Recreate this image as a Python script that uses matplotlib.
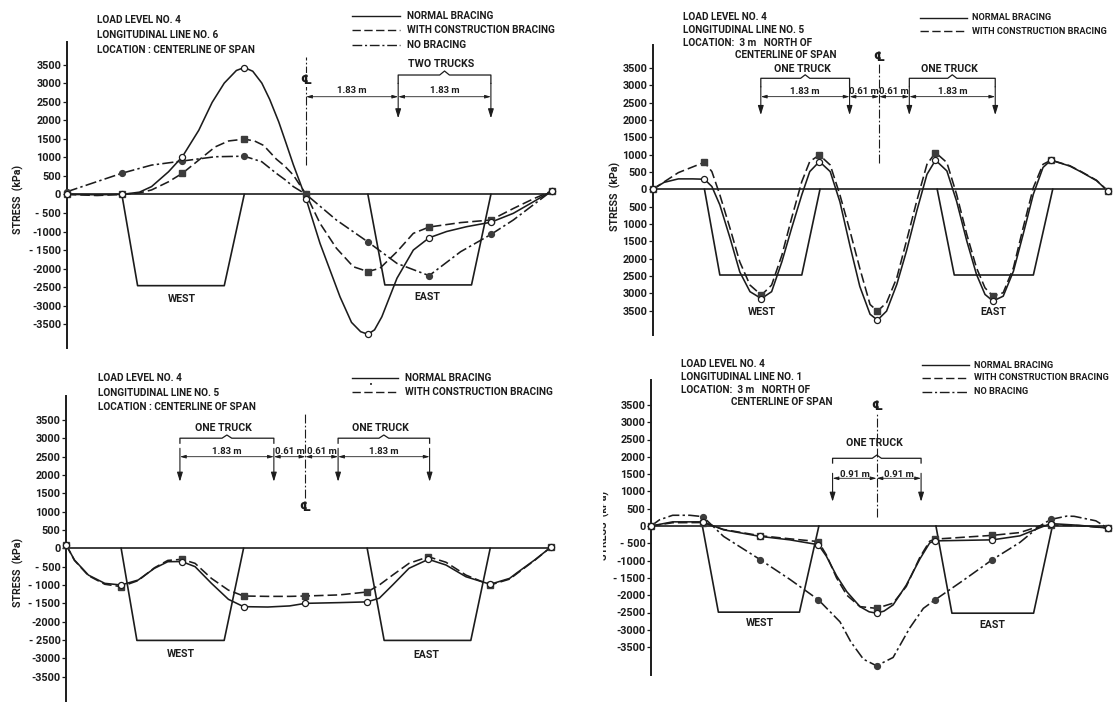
import matplotlib
matplotlib.use("Agg")
import matplotlib.pyplot as plt
from matplotlib.lines import Line2D
from matplotlib.transforms import Bbox, TransformedBbox

W, H = 1116, 702
INK = "#1c1c1c"
FILL = "#3c3c3c"
FONT = ["Roboto", "DejaVu Sans"]

# girder positions (spacing units) where gauges were read
GIRDER_X = [0, 0.91, 1.91, 2.93, 3.95, 4.97, 5.98, 7.0, 8.0]
TICKS = [3500, 3000, 2500, 2000, 1500, 1000, 500, 0,
         -500, -1000, -1500, -2000, -2500, -3000, -3500]
P1_TICKLABELS = ["3500", "3000", "2500", "2000", "1500", "1000", "500", "0",
                 "- 500", "-1000", "- 1500", "-2000", "-2500", "-3000", "-3500"]
P2_TICKLABELS = ["3500", "3000", "2500", "2000", "1500", "1000", "500", "0",
                 "500", "1000", "1500", "2000", "2500", "3000", "3500"]
P3_TICKLABELS = ["3500", "3000", "2500", "2000", "1500", "1000", "500", "0",
                 "- 500", "- 1000", "- 1500", "-2000", "- 2500", "-3000", "-3500"]
P4_TICKLABELS = ["3500", "3000", "2500", "2000", "1500", "1000", "500", "0",
                 "- 500", "-1000", "- 1500", "-2000", "-2500", "-3000", "-3500"]

# ---- panel 1 : line 6, centerline of span (kPa) ----
p1_normal = [0, 0, 1020, 3420, -120, -3770, -1170, -750, 90]
p1_constr = [0, 0, 570, 1490, 0, -2080, -880, -690, 90]
p1_nobrace = [70, 570, 900, 1030, 0, -1280, -2190, -1080, 90]
p1_normal_curve = [(0, 0), (0.5, -10), (0.91, 0), (1.2, 60), (1.4, 210), (1.68, 610),
                   (1.91, 1020), (2.18, 1730), (2.4, 2480), (2.6, 3000), (2.8, 3340),
                   (2.93, 3420), (3.07, 3320), (3.22, 3000), (3.35, 2560), (3.5, 1950),
                   (3.62, 1380), (3.74, 800), (3.95, -120), (4.18, -1320), (4.51, -2760),
                   (4.7, -3450), (4.85, -3700), (4.97, -3770), (5.08, -3650), (5.2, -3300),
                   (5.45, -2260), (5.72, -1500), (5.98, -1170), (6.27, -1000), (6.6, -870),
                   (7.0, -750), (7.37, -510), (7.7, -200), (8.0, 90)]
p1_constr_curve = [(0, 0), (0.5, -30), (0.91, 0), (1.2, 40), (1.4, 120), (1.68, 340),
                   (1.91, 570), (2.18, 925), (2.45, 1280), (2.67, 1440), (2.93, 1490),
                   (3.1, 1440), (3.25, 1320), (3.46, 950), (3.6, 760), (3.74, 520), (3.95, 0),
                   (4.18, -780), (4.45, -1450), (4.73, -1950), (4.97, -2080), (5.17, -1990),
                   (5.45, -1545), (5.72, -1050), (5.98, -880), (6.5, -760), (7.0, -690),
                   (7.37, -380), (7.7, -120), (8.0, 90)]
p1_nobrace_curve = [(0, 70), (0.91, 570), (1.4, 790), (1.91, 900), (2.45, 1015), (2.93, 1030),
                    (3.22, 880), (3.46, 566), (3.6, 400), (3.74, 210), (3.95, 0), (4.45, -690),
                    (4.97, -1280), (5.45, -1860), (5.98, -2190), (6.5, -1545), (7.0, -1080),
                    (7.37, -690), (8.0, 90)]
p1_boxes = [(0.91, 1.17, 2.60, 2.93, -2460), (4.97, 5.25, 6.68, 7.0, -2440)]

# ---- panel 2 : line 5, 3 m north of centerline ----
p2_normal = [0, 290, -3150, 800, -3770, 840, -3220, 840, -50]
p2_constr = [0, 780, -3050, 990, -3510, 1060, -3080, 840, -50]
p2_normal_curve = [(0, 0), (0.2, 200), (0.45, 300), (0.7, 300), (0.91, 290), (1.04, 80),
                   (1.18, -450), (1.36, -1410), (1.53, -2380), (1.71, -2950), (1.91, -3150),
                   (2.09, -2950), (2.27, -2090), (2.44, -1130), (2.62, -160), (2.76, 510),
                   (2.93, 800), (3.12, 510), (3.29, -360), (3.47, -1650), (3.64, -2800),
                   (3.82, -3600), (3.95, -3770), (4.11, -3510), (4.29, -2740), (4.46, -1780),
                   (4.64, -630), (4.82, 430), (4.97, 840), (5.17, 530), (5.34, -340),
                   (5.52, -1490), (5.69, -2450), (5.84, -3030), (5.98, -3220), (6.16, -3080),
                   (6.34, -2360), (6.51, -1300), (6.69, -140), (6.86, 630), (7.0, 840),
                   (7.33, 670), (7.53, 500), (7.8, 250), (8.0, -50)]
p2_constr_curve = [(0, 0), (0.45, 480), (0.91, 780), (1.04, 510), (1.18, -160), (1.36, -1130),
                   (1.53, -2090), (1.71, -2760), (1.91, -3050), (2.09, -2760), (2.27, -1900),
                   (2.44, -840), (2.62, 220), (2.76, 800), (2.93, 990), (3.12, 700),
                   (3.29, -160), (3.47, -1220), (3.64, -2280), (3.82, -3320), (3.95, -3510),
                   (4.11, -3270), (4.29, -2550), (4.46, -1490), (4.64, -340), (4.82, 720),
                   (4.97, 1060), (5.17, 770), (5.34, -140), (5.52, -1300), (5.69, -2260),
                   (5.84, -2840), (5.98, -3080), (6.16, -2980), (6.34, -2260), (6.51, -1110),
                   (6.69, 50), (6.86, 720), (7.0, 840), (7.33, 680), (7.53, 510), (7.8, 260),
                   (8.0, -50)]
p2_boxes = [(0.91, 1.18, 2.62, 2.94, -2470), (5.0, 5.30, 6.69, 7.03, -2470)]

# ---- panel 3 : line 5, centerline of span ----
p3_normal = [100, -1000, -360, -1590, -1500, -1460, -300, -980, 30]
p3_constr = [100, -1045, -300, -1300, -1300, -1190, -230, -1000, 30]
p3_normal_curve = [(0, 100), (0.14, -320), (0.37, -730), (0.64, -955), (0.91, -1000),
                   (1.19, -865), (1.46, -545), (1.68, -365), (1.91, -360), (2.13, -500),
                   (2.4, -955), (2.68, -1390), (2.93, -1590), (3.33, -1600), (3.69, -1570),
                   (3.95, -1500), (4.51, -1480), (4.97, -1460), (5.17, -1360), (5.39, -1000),
                   (5.66, -545), (5.98, -300), (6.27, -455), (6.6, -775), (7.0, -980),
                   (7.32, -820), (7.44, -670), (7.74, -310), (8.0, 30)]
p3_constr_curve = [(0, 100), (0.14, -330), (0.37, -745), (0.64, -980), (0.91, -1045),
                   (1.19, -880), (1.46, -530), (1.68, -330), (1.91, -300), (2.13, -410),
                   (2.4, -820), (2.68, -1140), (2.93, -1300), (3.33, -1310), (3.69, -1310),
                   (3.95, -1300), (4.51, -1270), (4.97, -1190), (5.17, -1000), (5.39, -730),
                   (5.66, -410), (5.98, -230), (6.27, -380), (6.6, -730), (7.0, -1000),
                   (7.32, -840), (7.44, -690), (7.74, -320), (8.0, 30)]
p3_boxes = [(0.91, 1.17, 2.61, 2.93, -2510), (4.97, 5.25, 6.68, 7.0, -2510)]

# ---- panel 4 : line 1, 3 m north of centerline ----
p4_normal = [0, 120, -300, -540, -2520, -430, -400, 70, -60]
p4_constr = [0, 100, -280, -450, -2380, -380, -270, 30, -60]
p4_nobrace = [0, 270, -970, -2130, -4040, -2140, -970, 190, -60]
p4_normal_curve = [(0, 0), (0.38, 120), (0.91, 120), (1.27, -110), (1.91, -300), (2.43, -400),
                   (2.93, -540), (3.07, -870), (3.25, -1440), (3.43, -1900), (3.66, -2330),
                   (3.82, -2480), (3.95, -2520), (4.08, -2460), (4.24, -2280), (4.47, -1710),
                   (4.71, -950), (4.88, -490), (4.97, -430), (5.98, -400), (6.46, -285),
                   (6.81, -50), (7.0, 70), (7.5, 20), (8.0, -60)]
p4_constr_curve = [(0, 0), (0.38, 95), (0.91, 100), (1.27, -100), (1.91, -280), (2.43, -370),
                   (2.93, -450), (3.07, -830), (3.25, -1500), (3.43, -2000), (3.66, -2330),
                   (3.95, -2380), (4.24, -2230), (4.47, -1750), (4.71, -900), (4.88, -440),
                   (4.97, -380), (5.98, -270), (6.46, -190), (6.81, 0), (7.0, 30),
                   (7.5, 10), (8.0, -60)]
p4_nobrace_curve = [(0, 0), (0.15, 180), (0.38, 310), (0.68, 310), (0.91, 270), (1.27, -300),
                    (1.91, -970), (2.43, -1540), (2.93, -2130), (3.31, -2770), (3.5, -3350),
                    (3.72, -3850), (3.95, -4040), (4.24, -3800), (4.53, -2950), (4.77, -2380),
                    (4.97, -2140), (5.47, -1570), (5.98, -970), (6.46, -475), (6.81, 0),
                    (7.0, 190), (7.28, 285), (7.41, 280), (7.79, 150), (8.0, -60)]
p4_boxes = [(0.90, 1.18, 2.60, 2.94, -2490), (4.99, 5.27, 6.70, 7.03, -2520)]

fig = plt.figure(figsize=(W / 100, H / 100), dpi=100)
fig.patch.set_facecolor("white")

SOLID = "-"
DASHED = (0, (6, 2.5))
DASHDOT = (0, (7, 2, 1.5, 2))
LW = 1.15


def px(x, y):
    return x / W, 1 - y / H


def ftext(x, y, s, size=7.2, **kw):
    return fig.text(*px(x, y), s, fontsize=size, family=FONT, fontweight="bold",
                    color=INK, va="center", **kw)


def fline(x0, x1, y, ls):
    a, b = px(x0, y), px(x1, y)
    fig.add_artist(Line2D([a[0], b[0]], [a[1], b[1]], color=INK, lw=1.0, ls=ls))


def make_panel(rect, px0, ux, py0, k, axis_lo, axis_hi, labels):
    L, T, R, B = rect
    ax = fig.add_axes([L / W, 1 - B / H, (R - L) / W, (B - T) / H])
    ax.set_xlim((L - px0) / ux, (R - px0) / ux)
    ax.set_ylim((py0 - B) / k * 1000, (py0 - T) / k * 1000)
    ax.patch.set_alpha(0)
    for s in ["top", "right", "bottom"]:
        ax.spines[s].set_visible(False)
    ax.spines["left"].set_position(("data", 0))
    ax.spines["left"].set_bounds(axis_lo, axis_hi)
    ax.spines["left"].set_linewidth(1.4)
    ax.spines["left"].set_color(INK)
    ax.set_xticks([])
    ax.set_yticks(TICKS, labels)
    ax.tick_params(axis="y", direction="out", length=3, width=0.9, pad=1,
                   labelsize=7.8, colors=INK)
    for t in ax.get_yticklabels():
        t.set_fontweight("bold")
        t.set_family(FONT)
    ax.plot([0, 8], [0, 0], color=INK, lw=1.2)
    return ax


def curve(ax, pts, ls):
    ax.plot([p[0] for p in pts], [p[1] for p in pts], color=INK, lw=LW, ls=ls)


def marks(ax, vals, kind):
    if kind == "open":
        ax.plot(GIRDER_X, vals, ls="none", marker="o", ms=4.4, mfc="white",
                mec=INK, mew=0.9, zorder=5)
    elif kind == "square":
        ax.plot(GIRDER_X, vals, ls="none", marker="s", ms=4.0, mfc=FILL,
                mec=FILL, zorder=4)
    else:
        ax.plot(GIRDER_X, vals, ls="none", marker="o", ms=4.2, mfc=FILL,
                mec=FILL, zorder=4)


def boxes(ax, bxs):
    for a, b, c, d, depth in bxs:
        ax.plot([a, b, c, d], [0, depth, depth, 0], color=INK, lw=1.2)


def centerline(ax, x, y0, y1, sym_y):
    ax.plot([x, x], [y0, y1], color=INK, lw=0.8, ls=(0, (8, 2, 1.5, 2)))
    ax.text(x, sym_y, "\u2104", ha="center", va="center", fontsize=9,
            family=["DejaVu Sans"], fontweight="bold", color=INK,
            bbox=dict(fc="white", ec="none", pad=0.2))


def wheel(ax, x, y0, y1):
    ax.annotate("", xy=(x, y1), xytext=(x, y0),
                arrowprops=dict(arrowstyle="-|>,head_length=0.55,head_width=0.17",
                                color=INK, lw=0.8, shrinkA=0, shrinkB=0))


def dims(ax, xs, y, texts, ty):
    for a, b, s in zip(xs[:-1], xs[1:], texts):
        ax.annotate("", xy=(b, y), xytext=(a, y),
                    arrowprops=dict(arrowstyle="<|-|>,head_length=0.35,head_width=0.1",
                                    color=INK, lw=0.6, shrinkA=0, shrinkB=0))
        ax.text((a + b) / 2, ty, s, ha="center", va="center", fontsize=6.8,
                family=FONT, fontweight="bold", color=INK)


def brace(ax, a, b, y_end, y_bar, y_peak, label, label_y):
    m = (a + b) / 2
    ax.plot([a, a, m - 0.08, m, m + 0.08, b, b],
            [y_end, y_bar, y_bar, y_peak, y_bar, y_bar, y_end], color=INK, lw=0.9)
    ax.text(m - 0.05, label_y, label, ha="center", va="center", fontsize=7.6,
            family=FONT, fontweight="bold", color=INK)


def site_labels(ax, west, east):
    for (x, y), s in zip([west, east], ["WEST", "EAST"]):
        ax.text(x, y, s, ha="center", va="center", fontsize=7.6, family=FONT,
                fontweight="bold", color=INK)


# ================= panel 1 =================
ax1 = make_panel((0, 0, 558, 358), 66.7, 60.6, 194.4, 37.1, -4150, 4100, P1_TICKLABELS)
boxes(ax1, p1_boxes)
curve(ax1, p1_normal_curve, SOLID)
curve(ax1, p1_constr_curve, DASHED)
curve(ax1, p1_nobrace_curve, DASHDOT)
marks(ax1, p1_nobrace, "dot")
marks(ax1, p1_constr, "square")
marks(ax1, p1_normal, "open")
centerline(ax1, 3.95, 790, 3700, 3080)
dims(ax1, [3.95, 5.47, 7.0], 2633, ["1.83 m", "1.83 m"], 2814)
wheel(ax1, 5.47, 2995, 2051)
wheel(ax1, 7.0, 2995, 2051)
brace(ax1, 5.47, 7.0, 2995, 3218, 3326, "TWO TRUCKS", 3507)
site_labels(ax1, (1.90, -2830), (5.95, -2765))

# ================= panel 2 =================
ax2 = make_panel((560, 0, 1116, 358), 652.7, 56.9, 189.3, 34.7, -4200, 4150, P2_TICKLABELS)
boxes(ax2, p2_boxes)
curve(ax2, p2_normal_curve, SOLID)
curve(ax2, p2_constr_curve, DASHED)
marks(ax2, p2_constr, "square")
marks(ax2, p2_normal, "open")
centerline(ax2, 3.98, 760, 3610, 3810)
dims(ax2, [1.90, 3.46, 3.98, 4.51, 6.02], 2670,
     ["1.83 m", "0.61 m", "0.61 m", "1.83 m"], 2813)
for xw in [1.90, 3.46, 4.51, 6.02]:
    wheel(ax2, xw, 2957, 2141)
brace(ax2, 1.90, 3.46, 2957, 3199, 3300, "ONE TRUCK", 3467)
brace(ax2, 4.51, 6.02, 2957, 3199, 3300, "ONE TRUCK", 3467)
site_labels(ax2, (1.91, -3545), (5.98, -3545))

# ================= panel 3 =================
ax3 = make_panel((0, 362, 558, 702), 66.0, 60.6, 548.3, 36.7, -4180, 4150, P3_TICKLABELS)
boxes(ax3, p3_boxes)
curve(ax3, p3_normal_curve, SOLID)
curve(ax3, p3_constr_curve, DASHED)
marks(ax3, p3_constr, "square")
marks(ax3, p3_normal, "open")
centerline(ax3, 3.95, 1360, 3710, 1125)
dims(ax3, [1.88, 3.43, 3.95, 4.49, 6.0], 2496,
     ["1.83 m", "0.61 m", "0.61 m", "1.83 m"], 2632)
for xw in [1.88, 3.43, 4.49, 6.0]:
    wheel(ax3, xw, 2725, 1815)
brace(ax3, 1.88, 3.43, 2864, 3000, 3087, "ONE TRUCK", 3270)
brace(ax3, 4.49, 6.0, 2864, 3000, 3087, "ONE TRUCK", 3270)
site_labels(ax3, (1.89, -2888), (5.95, -2915))

# ================= panel 4 =================
ax4 = make_panel((560, 362, 1116, 702), 651.0, 57.1, 526.0, 34.6, -4300, 4230, P4_TICKLABELS)
boxes(ax4, p4_boxes)
curve(ax4, p4_normal_curve, SOLID)
curve(ax4, p4_constr_curve, DASHED)
curve(ax4, p4_nobrace_curve, DASHDOT)
marks(ax4, p4_nobrace, "dot")
marks(ax4, p4_constr, "square")
marks(ax4, p4_normal, "open")
centerline(ax4, 3.95, 270, 3260, 3450)
dims(ax4, [3.18, 3.95, 4.73], 1379, ["0.91 m", "0.91 m"], 1500)
wheel(ax4, 3.18, 1523, 702)
wheel(ax4, 4.73, 1523, 702)
brace(ax4, 3.18, 4.73, 1820, 1957, 2050, "ONE TRUCK", 2390)
site_labels(ax4, (1.91, -2812), (5.98, -2870))

# ---- headings ----
for y, s in zip([20, 35, 50], ["LOAD LEVEL NO. 4", "LONGITUDINAL LINE NO. 6",
                               "LOCATION : CENTERLINE OF SPAN"]):
    ftext(97, y, s)
for y, s in zip([17, 30, 43], ["LOAD LEVEL NO. 4", "LONGITUDINAL LINE NO. 5",
                               "LOCATION:  3 m   NORTH OF"]):
    ftext(683, y, s)
ftext(735, 55, "CENTERLINE OF SPAN")
for y, s in zip([378, 393, 407], ["LOAD LEVEL NO. 4", "LONGITUDINAL LINE NO. 5",
                                  "LOCATION : CENTERLINE OF SPAN"]):
    ftext(98, y, s)
for y, s in zip([364, 377, 390], ["LOAD LEVEL NO. 4", "LONGITUDINAL LINE NO. 1",
                                  "LOCATION:  3 m   NORTH OF"]):
    ftext(681, y, s)
ftext(731, 402, "CENTERLINE OF SPAN")

# ---- legends ----
LEG3 = [(SOLID, "NORMAL BRACING"), (DASHED, "WITH CONSTRUCTION BRACING"),
        (DASHDOT, "NO BRACING")]
for (ls, s), y in zip(LEG3, [16, 30, 45]):
    fline(352, 400, y, ls)
    ftext(407, y, s)
for (ls, s), y in zip(LEG3[:2], [18, 31]):
    fline(920, 967, y, ls)
    ftext(972, y, s, size=6.6)
for (ls, s), y in zip(LEG3[:2], [378, 392]):
    fline(352, 398, y, ls)
    ftext(405, y, s)
fig.text(*px(371, 385), "\u2022", fontsize=5, ha="center", va="center", color=INK)
for (ls, s), y in zip(LEG3, [365, 378, 392]):
    fline(922, 969, y, ls)
    ftext(974, y, s, size=6.6)

# ---- axis titles ----
for x, y in [(18, 199), (615, 196), (18, 572)]:
    ftext(x, y, "STRESS  (kPa)", size=7.6, rotation=90, ha="center")
t = ftext(604, 525, "STRESS  (kPa)", size=7.6, rotation=90, ha="center")
t.set_clip_on(True)
t.set_clip_box(TransformedBbox(Bbox([[603 / W, 0], [1, 1]]), fig.transFigure))

fig.savefig("out.png", dpi=100, facecolor="white")
